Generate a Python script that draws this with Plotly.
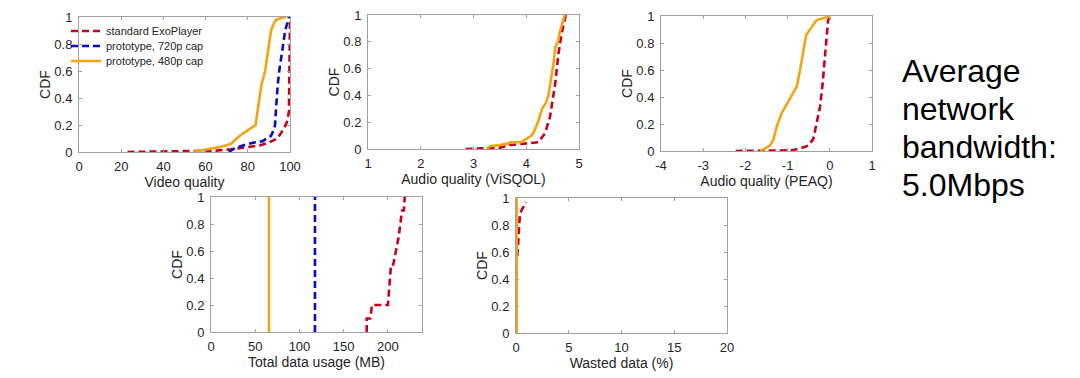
import plotly.graph_objects as go

# ---------------- data ----------------
series_names = ["standard ExoPlayer", "prototype, 720p cap", "prototype, 480p cap"]

# Panel 1: Video quality
vq_std_x = [23, 40, 55, 65, 72, 80, 86, 90, 94, 97, 98.5, 99.5, 99.7, 99.8, 100]
vq_std_y = [0, 0.003, 0.006, 0.01, 0.02, 0.035, 0.05, 0.07, 0.1, 0.17, 0.22, 0.3, 0.6, 0.9, 1.0]
vq_720_x = [71, 72, 74, 78, 83, 87, 89, 91, 92.2, 92.9, 93.3, 93.7, 94.2, 94.9, 95.7, 96.8, 97.7, 98.7, 99.5]
vq_720_y = [0, 0.01, 0.03, 0.05, 0.07, 0.08, 0.1, 0.12, 0.16, 0.2, 0.3, 0.4, 0.5, 0.6, 0.7, 0.8, 0.9, 0.95, 1.0]
vq_480_x = [54, 58, 62, 66, 70, 72, 74.7, 77, 80, 82, 83.7, 84.6, 85.4, 86.5, 88.2, 89.2, 90.0, 91.0, 92.3, 93.5, 95.5, 98]
vq_480_y = [0, 0.01, 0.02, 0.035, 0.05, 0.06, 0.1, 0.13, 0.16, 0.18, 0.2, 0.3, 0.4, 0.5, 0.6, 0.7, 0.8, 0.9, 0.95, 0.98, 0.99, 1.0]

# Panel 2: Audio quality (ViSQOL)
vs_std_x = [2.85, 3.2, 3.5, 3.7, 3.9, 4.1, 4.23, 4.36, 4.45, 4.5, 4.55, 4.58, 4.61, 4.67, 4.72, 4.75]
vs_std_y = [0, 0.003, 0.01, 0.03, 0.04, 0.045, 0.05, 0.12, 0.24, 0.35, 0.49, 0.6, 0.71, 0.86, 0.95, 1.0]
vs_480_x = [3.25, 3.31, 3.5, 3.65, 3.69, 3.9, 3.98, 4.1, 4.15, 4.22, 4.3, 4.38, 4.42, 4.48, 4.52, 4.55, 4.6, 4.64, 4.69, 4.73]
vs_480_y = [0, 0.02, 0.03, 0.04, 0.05, 0.05, 0.07, 0.1, 0.13, 0.2, 0.3, 0.35, 0.4, 0.54, 0.65, 0.76, 0.8, 0.88, 0.94, 1.0]

# Panel 3: Audio quality (PEAQ)
pq_std_x = [-2.23, -1.5, -0.9, -0.7, -0.51, -0.39, -0.31, -0.23, -0.17, -0.11, -0.07, -0.04, 0.02]
pq_std_y = [0, 0.002, 0.005, 0.02, 0.04, 0.09, 0.2, 0.33, 0.5, 0.7, 0.85, 0.97, 1.0]
pq_480_x = [-1.65, -1.42, -1.34, -1.26, -1.14, -1.05, -0.94, -0.78, -0.71, -0.63, -0.56, -0.47, -0.31, -0.07, 0.0]
pq_480_y = [0, 0.04, 0.08, 0.18, 0.28, 0.33, 0.4, 0.48, 0.59, 0.72, 0.86, 0.9, 0.97, 0.99, 1.0]

# Panel 4: Total data usage (MB)
du_std_x = [176, 176, 180, 182, 200, 201, 202, 203.5, 206, 209, 212, 214, 216, 218, 219]
du_std_y = [0, 0.1, 0.1, 0.2, 0.2, 0.3, 0.4, 0.5, 0.5, 0.6, 0.7, 0.8, 0.9, 0.9, 1.0]
du_720_x = [117.5, 117.5]
du_720_y = [0, 1.0]
du_480_x = [65.5, 65.5]
du_480_y = [0, 1.0]

# Panel 5: Wasted data (%)
wd_std_x = [0, 0.05, 0.16, 0.22, 0.28, 0.31, 0.38, 0.54, 0.85, 0.95]
wd_std_y = [0, 0.5, 0.61, 0.7, 0.76, 0.82, 0.89, 0.91, 0.95, 0.97]
wd_480_x = [0.06, 0.06]
wd_480_y = [0, 1.0]

note_lines = ["Average", "network", "bandwidth:", "5.0Mbps"]

# ---------------- styling ----------------
RED = "#c8001e"
BLUE = "#0a0ac8"
ORANGE = "#f0a514"
FONT = "Liberation Sans, Arial, sans-serif"
TXT = "#262626"
W, H = 1080, 378

def px_dom(a, b, total, flip=False):
    if flip:
        return [1 - b / total, 1 - a / total]
    return [a / total, b / total]

panels = [
    # (x px range, y px range (top,bottom), xrange, xticks, xtitle)
    ((79, 290), (17, 152), [0, 100], [0, 20, 40, 60, 80, 100], "Video quality"),
    ((368, 579), (15, 149), [1, 5], [1, 2, 3, 4, 5], "Audio quality (ViSQOL)"),
    ((661, 872), (16, 151), [-4, 1], [-4, -3, -2, -1, 0, 1], "Audio quality (PEAQ)"),
    ((211, 422), (197, 332), [0, 238.5], [0, 50, 100, 150, 200], "Total data usage (MB)"),
    ((516, 727), (198, 333), [0, 20], [0, 5, 10, 15, 20], "Wasted data (%)"),
]

fig = go.Figure()

def line_style(color, dashed):
    d = dict(color=color, width=2.6)
    if dashed:
        d["dash"] = "7px,4px"
    return d

traces = [
    (0, vq_std_x, vq_std_y, 0),
    (0, vq_720_x, vq_720_y, 1),
    (0, vq_480_x, vq_480_y, 2),
    (1, vs_std_x, vs_std_y, 0),
    (1, vs_480_x, vs_480_y, 2),
    (2, pq_std_x, pq_std_y, 0),
    (2, pq_480_x, pq_480_y, 2),
    (3, du_std_x, du_std_y, 0),
    (3, du_720_x, du_720_y, 1),
    (3, du_480_x, du_480_y, 2),
    (4, wd_std_x, wd_std_y, 0),
    (4, wd_480_x, wd_480_y, 2),
]
colors = [RED, BLUE, ORANGE]
dashed = [True, True, False]
legend_ids = ["legend", "legend2", "legend3"]

for p, xs, ys, s in traces:
    ax = "" if p == 0 else str(p + 1)
    show = p == 0
    fig.add_trace(go.Scatter(
        x=xs, y=ys, mode="lines", name=series_names[s],
        line=line_style(colors[s], dashed[s]),
        xaxis="x" + ax, yaxis="y" + ax,
        showlegend=show, legend=legend_ids[s],
        hoverinfo="skip",
    ))

layout = dict(
    width=W, height=H,
    margin=dict(l=0, r=0, t=0, b=0, pad=0, autoexpand=False),
    paper_bgcolor="white", plot_bgcolor="white",
    font=dict(family=FONT, color=TXT, size=13),
    showlegend=True,
)

for i, (xp, yp, xr, xt, title) in enumerate(panels):
    ax = "" if i == 0 else str(i + 1)
    common = dict(
        showline=True, linecolor="#a0a0a0", linewidth=1, mirror="allticks",
        ticks="inside", ticklen=3, tickcolor="#a0a0a0", tickwidth=1,
        showgrid=False, zeroline=False, fixedrange=True, automargin=False,
        tickfont=dict(size=13, color=TXT, family=FONT),
    )
    layout["xaxis" + ax] = dict(
        domain=px_dom(xp[0], xp[1], W), range=xr, tickvals=xt,
        ticktext=[str(v) for v in xt],
        anchor="y" + ax,
        title=dict(text=title, font=dict(size=14, color=TXT), standoff=3),
        ticklabelstandoff=2,
        **common,
    )
    layout["yaxis" + ax] = dict(
        domain=px_dom(yp[0], yp[1], H, flip=True), range=[0, 1],
        tickvals=[0, 0.2, 0.4, 0.6, 0.8, 1],
        ticktext=["0", "0.2", "0.4", "0.6", "0.8", "1"],
        anchor="x" + ax,
        title=dict(text="CDF", font=dict(size=14, color=TXT), standoff=0),
        ticklabelstandoff=3,
        **common,
    )

leg_y = [31, 46, 61]
for i, lid in enumerate(legend_ids):
    layout[lid] = dict(
        x=66 / W, y=1 - leg_y[i] / H, xanchor="left", yanchor="middle",
        bgcolor="rgba(0,0,0,0)", borderwidth=0,
        font=dict(size=11, color=TXT, family=FONT),
        itemwidth=30,
    )

fig.update_layout(**layout)

baselines = [82.7, 120.7, 158.5, 196.5]
NOTE_SIZE = 32
for i, t in enumerate(note_lines):
    fig.add_annotation(
        text=t, x=900 / W, y=1 - (baselines[i] - 0.36 * NOTE_SIZE) / H,
        xref="paper", yref="paper",
        xanchor="left", yanchor="middle", showarrow=False,
        font=dict(size=NOTE_SIZE, color="black", family=FONT),
    )

fig.write_html(
    "out.html",
    config={"displayModeBar": False},
    post_script="document.body.style.margin='0';document.body.style.padding='0';",
)
